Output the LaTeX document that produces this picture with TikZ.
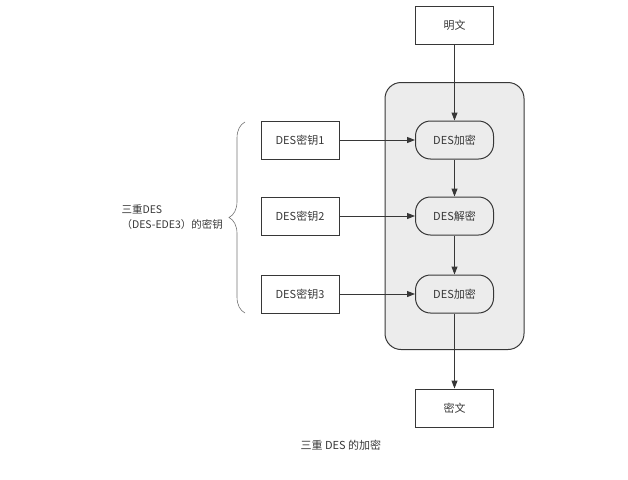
\documentclass[tikz,border=0pt]{standalone}
\usepackage{fontspec}
\setmainfont{Noto Sans CJK SC}
\usetikzlibrary{arrows.meta,decorations.pathreplacing}
\definecolor{ink}{RGB}{55,55,55}
\definecolor{panelgray}{RGB}{236,236,236}
\tikzset{
  box/.style={draw=ink,line width=1pt,minimum width=78pt,minimum height=38pt,
    inner sep=0pt,text=ink,font=\fontsize{11}{13}\selectfont},
  stage/.style={box,rounded corners=15pt},
  flow/.style={ink,line width=1pt,-{Triangle[length=8pt,width=6pt]}},
}

\begin{document}
\begin{tikzpicture}[x=1pt,y=-1pt]
\useasboundingbox (0,0) rectangle (628,479);
% panel behind the three stages
\node[draw=ink,line width=1pt,fill=panelgray,rounded corners=16pt,
  minimum width=139pt,minimum height=267pt] (panel) at (454.5,216) {};
\node[box] (plain) at (454.5,25) {明文};
\node[stage] (enc1) at (454.5,140) {DES加密};
\node[stage] (dec) at (454.5,216) {DES解密};
\node[stage] (enc2) at (454.5,294) {DES加密};
\node[box] (cipher) at (454.5,408) {密文};
\node[box] (kone) at (300,140) {DES密钥1};
\node[box] (ktwo) at (300,216) {DES密钥2};
\node[box] (kthree) at (300,294) {DES密钥3};
\draw[flow] (plain) -- (enc1);
\draw[flow] (enc1) -- (dec);
\draw[flow] (dec) -- (enc2);
\draw[flow] (enc2) -- (cipher);
\draw[flow] (kone) -- (enc1);
\draw[flow] (ktwo) -- (dec);
\draw[flow] (kthree) -- (enc2);
% brace for the keys
\coordinate (bb) at (245,313);
\coordinate (bt) at (245,122);
\draw[ink!70,line width=0.6pt,decorate,decoration={brace,amplitude=16pt}] (bb) -- (bt);
\node[anchor=west,align=left,text=ink,font=\fontsize{10.5}{15}\selectfont] (keys) at (118,217)
  {三重DES\\（DES-EDE3）的密钥};
\node[anchor=west,text=ink,font=\fontsize{11}{13}\selectfont] (caption) at (297,445) {三重 DES 的加密};
\end{tikzpicture}
\end{document}
